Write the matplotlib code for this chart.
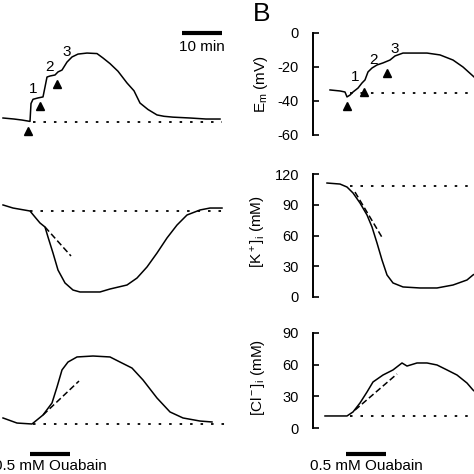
import matplotlib
matplotlib.use('Agg')
import matplotlib.pyplot as plt

plt.rcParams['font.family'] = ['Liberation Sans', 'DejaVu Sans']
plt.rcParams['mathtext.fontset'] = 'custom'
plt.rcParams['mathtext.rm'] = 'Liberation Sans'
plt.rcParams['mathtext.it'] = 'Liberation Sans'
plt.rcParams['axes.unicode_minus'] = False

# time in min (ouabain applied 0-10 min)
em_a_t = [-6.75, -4, -2, -0.5, 0, 0.25, 0.75, 2, 3.25, 3.75, 4.25, 5, 6.25, 7, 8, 9.25, 10.5, 12,
          14.25, 16.75, 18.25, 20, 22, 24.25, 26, 27.5, 29.5, 31.75, 33.5, 35.75, 40, 44, 47.5]
em_a = [-50, -50.6, -51.2, -51.8, -52, -41.5, -39, -38.2, -37.6, -31.8, -25.9, -25.3, -24.7, -22.9,
        -21.8, -17.1, -14.1, -12.4, -11.8, -12.1, -14.7, -18, -22.5, -29.4, -34, -41.2, -45, -48.2,
        -49, -49.5, -50, -50.6, -50.6]
em_b_t = [-4, -1.5, -0.25, 0.25, 1, 1.75, 3, 4, 4.75, 5.5, 6.5, 7.75, 9.25, 11, 12.25, 14.25,
          16.75, 20.25, 23.5, 26.75, 29.25, 31.75, 33]
em_b = [-33.5, -34.1, -34.7, -37.6, -36.5, -34.7, -32.4, -29.4, -27.6, -22.9, -20.6, -18.8, -17.6,
        -15.9, -13.5, -11.8, -11.8, -11.8, -12.9, -15.9, -20, -25.3, -28]
em_base_a, em_base_b = -52.4, -35.3

k_a_t = [-6.75, -4.25, 0, 1.25, 2.5, 3.75, 4.5, 5.75, 7, 8.75, 10.75, 12.5, 17.5, 20, 24.25,
         26.75, 29.25, 31.75, 34.25, 36.75, 39.25, 42.5, 45, 48]
k_a = [89.8, 86.8, 83.9, 78, 72.2, 68.3, 58.5, 42.9, 26.3, 13.7, 6.8, 4.9, 4.9, 7.8, 11.7, 18.5,
       29.3, 42.9, 57.6, 70.2, 80, 84.9, 86.8, 86.8]
k_b_t = [-4.75, -1.5, 0.25, 1.75, 3.5, 5.25, 6.5, 7.75, 9, 10.25, 11.75, 14.25, 18.5, 22.75,
         26.75, 30.25, 31.75, 33]
k_b = [111.2, 110.2, 107.3, 101.5, 91.7, 80, 68.3, 52.7, 36.1, 21.5, 13.7, 9.8, 8.8, 8.8, 11.7,
       16.6, 21.5, 24]
k_base_a, k_base_b = 83.9, 108

cl_a_t = [-6.75, -3.25, 0.5, 3.25, 5.5, 6.75, 8, 9.5, 11.75, 15.75, 20, 22.5, 25.5, 28.25, 31.75,
          35, 38.25, 42.5, 45.5]
cl_a = [9.5, 4.7, 3.8, 12.3, 23.7, 38.8, 55, 62.5, 67.3, 68.2, 67.3, 62.5, 56.8, 45.5, 28.4, 15.2,
        9.5, 6.6, 5.7]
cl_b_t = [-5.25, 0.25, 1.75, 3.5, 5.25, 6.75, 9.25, 11.75, 14, 15.25, 17.75, 20.25, 22.75, 25.25,
          27.75, 30.25, 31.75, 33]
cl_b = [11.4, 11.4, 15.2, 23.7, 34.1, 43.6, 50.2, 55, 61.6, 58.7, 61.6, 61.6, 59.7, 55, 50.2,
        42.6, 36, 32]
cl_base_a, cl_base_b = 3.8, 11.4

# initial-slope tangents ((t0, t1), (y0, y1))
k_tan_a = ((3.75, 10.25), (68.3, 40))
k_tan_b = ((2.25, 9.25), (102.4, 56.6))
cl_tan_a = ((3.25, 12.25), (12.3, 44.5))
cl_tan_b = ((2.25, 12.75), (17, 51.2))

# arrowheads and labels on Em traces
arr_a_t, arr_a_v = [-0.5, 2.5, 6.75], [-57.6, -42.9, -30]
num_a_t, num_a_v = [0.75, 5, 9.25], [-32.9, -20, -11.2]
arr_b_t, arr_b_v = [0.25, 4.5, 10.25], [-43, -34.7, -23.5]
num_b_t, num_b_v = [2.25, 6.75, 12.25], [-25.9, -15.9, -9.4]
ouabain = (0, 10)

W = H = 474.0
fig = plt.figure(figsize=(4.74, 4.74), dpi=100)

def box(left, right, top, bottom):
    return [left / W, 1 - bottom / H, (right - left) / W, (bottom - top) / H]

rows = [(33, 135, (-60, 0), [0, -20, -40, -60]),
        (174, 297, (0, 120), [0, 30, 60, 90, 120]),
        (333, 428, (0, 90), [0, 30, 60, 90])]
axA, axB = [], []
for top, bottom, ylim, ticks in rows:
    a = fig.add_axes(box(0, 240, top, bottom))
    a.set_xlim(-7.5, 52.5)
    a.set_ylim(*ylim)
    a.axis('off')
    axA.append(a)
    b = fig.add_axes(box(313, 513, top, bottom))
    b.set_xlim(-8.25, 41.75)
    b.set_ylim(*ylim)
    b.set_yticks(ticks)
    b.set_xticks([])
    for s in ['top', 'right', 'bottom']:
        b.spines[s].set_visible(False)
    b.spines['left'].set_linewidth(1.4)
    b.tick_params(axis='y', direction='in', length=4, width=1.2, pad=10, labelsize=10.5)
    b.patch.set_alpha(0)
    axB.append(b)

lw = 1.1
dots = (0, (1.4, 4.4))
dash = (0, (4, 2))
tr = dict(color='black', lw=lw, clip_on=False)

# Em
ax = axA[0]
ax.plot(em_a_t, em_a, **tr)
ax.plot([0.75, 48], [em_base_a] * 2, color='black', lw=1.3, ls=dots)
ax.plot(arr_a_t, arr_a_v, '^', color='black', ms=6, clip_on=False)
for i, (t, v) in enumerate(zip(num_a_t, num_a_v)):
    ax.text(t, v, str(i + 1), ha='center', va='center', fontsize=11)
ax.plot([38, 48], [0, 0], color='black', lw=3, solid_capstyle='butt', clip_on=False)
ax.text(43, -8.2, '10 min', ha='center', va='center', fontsize=11)

ax = axB[0]
ax.plot(em_b_t, em_b, **tr)
ax.plot([1, 34], [em_base_b] * 2, color='black', lw=1.3, ls=dots)
ax.plot(arr_b_t, arr_b_v, '^', color='black', ms=6, clip_on=False)
for i, (t, v) in enumerate(zip(num_b_t, num_b_v)):
    ax.text(t, v, str(i + 1), ha='center', va='center', fontsize=11)

# K
ax = axA[1]
ax.plot(k_a_t, k_a, **tr)
ax.plot([0, 48], [k_base_a] * 2, color='black', lw=1.3, ls=dots)
ax.plot(*k_tan_a, color='black', lw=lw, ls=dash)
ax = axB[1]
ax.plot(k_b_t, k_b, **tr)
ax.plot([1, 34], [k_base_b] * 2, color='black', lw=1.3, ls=dots)
ax.plot(*k_tan_b, color='black', lw=lw, ls=dash)

# Cl
ax = axA[2]
ax.plot(cl_a_t, cl_a, **tr)
ax.plot([0.75, 49], [cl_base_a] * 2, color='black', lw=1.3, ls=dots)
ax.plot(*cl_tan_a, color='black', lw=lw, ls=dash)
ax = axB[2]
ax.plot(cl_b_t, cl_b, **tr)
ax.plot([1, 34], [cl_base_b] * 2, color='black', lw=1.3, ls=dots)
ax.plot(*cl_tan_b, color='black', lw=lw, ls=dash)

# ouabain bars
for ax in (axA[2], axB[2]):
    ax.plot(ouabain, [-24.6, -24.6], color='black', lw=3, solid_capstyle='butt', clip_on=False)
    ax.text(5, -36, '0.5 mM Ouabain', ha='center', va='center', fontsize=11, clip_on=False)

fig.text(253 / W, 1 - 2 / H, 'B', fontsize=19, ha='left', va='top')
fig.text(261 / W, 1 - 84 / H, r'E$_\mathrm{m}$ (mV)', rotation=90, ha='center', va='center', fontsize=11)
fig.text(259 / W, 1 - 232 / H, r'[K$^+$]$_\mathrm{i}$ (mM)', rotation=90, ha='center', va='center', fontsize=11)
fig.text(258 / W, 1 - 378 / H, r'[Cl$^-$]$_\mathrm{i}$ (mM)', rotation=90, ha='center', va='center', fontsize=11)

fig.savefig('out.png', dpi=100)
